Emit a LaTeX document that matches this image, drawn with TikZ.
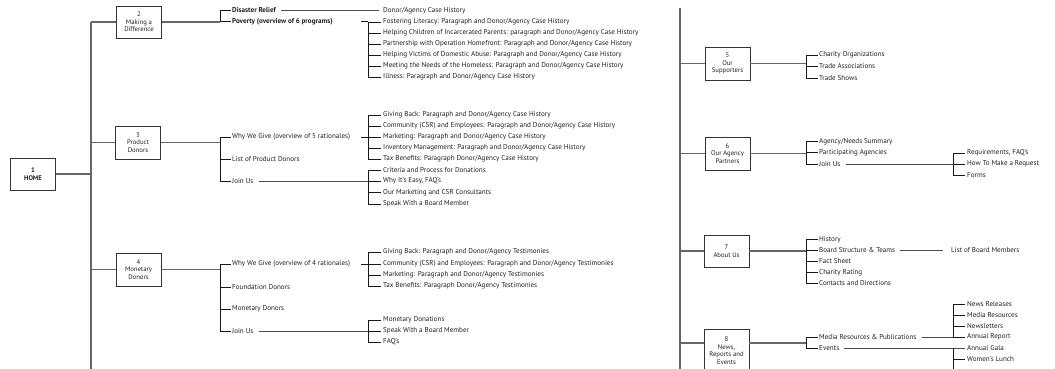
\documentclass[tikz,border=0pt]{standalone}
\usepackage{fontspec}
\setmainfont{PT Sans}
\newcommand\leaffont{\fontsize{7.1}{8}\selectfont}
\newcommand\boxfont{\fontsize{6.7}{7.6}\selectfont}
\begin{document}
\begin{tikzpicture}[x=1pt,y=-1pt,
  lf/.style={anchor=west,inner sep=0pt,font=\leaffont,text=black!88},
  lfb/.style={lf,font=\leaffont\bfseries},
  bx/.style={draw=black!80,line width=0.9pt,minimum width=45pt,minimum height=33pt,inner sep=0pt,align=center,font=\boxfont,text=black!88},
  trunk/.style={draw=black!60,line width=1.3pt},
  brk/.style={draw=black!90,line width=0.9pt},
  conn/.style={draw=black!70,line width=0.9pt}]
\useasboundingbox (0,0) rectangle (1055,368);
\clip (0,0) rectangle (1055,368);
% ---------- left trunk ----------
\coordinate (t1top) at (91,22);
\coordinate (t1bot) at (91,372);
\draw[trunk] (t1top) -- (t1bot);
\node[bx,minimum height=32pt,font=\boxfont\bfseries] (home) at (33,174) {1\\HOME};
\node[bx,minimum height=32pt] (b2) at (139,22) {2\\Making a\\Difference};
\node[bx] (b3) at (138,142.5) {3\\Product\\Donors};
\node[bx] (b4) at (138.5,269.5) {4\\Monetary\\Donors};
\draw[trunk] (home.east) -- (home.east -| t1top);
\foreach \b in {b2,b3,b4} \draw[trunk] (\b.west -| t1top) -- (\b.west);
% bracket columns
\coordinate (k2) at (220,0);
\coordinate (k3) at (368,0);
% ---------- column 2 ----------
\node[lfb] (dr) at (232,10.5) {Disaster Relief};
\node[lfb] (pov) at (232,21.5) {Poverty (overview of 6 programs)};
\node[lf] (why5) at (232,137) {Why We Give (overview of 5 rationales)};
\node[lf] (lpd) at (232,159) {List of Product Donors};
\node[lf] (join3) at (232,181) {Join Us};
\node[lf] (why4) at (232,264) {Why We Give (overview of 4 rationales)};
\node[lf] (fd) at (232,287) {Foundation Donors};
\node[lf] (md) at (232,309) {Monetary Donors};
\node[lf] (join4) at (232,331) {Join Us};
\foreach \b in {b2,b3,b4} \draw[trunk] (\b.east) -- (k2 |- \b.east);
\draw[brk] (k2 |- dr.west) -- (k2 |- b2.east);
\draw[brk] (k2 |- why5.west) -- (k2 |- join3.west);
\draw[brk] (k2 |- why4.west) -- (k2 |- join4.west);
\foreach \n in {dr,pov,why5,lpd,join3,why4,fd,md,join4}
  \draw[brk] (k2 |- \n.west) -- ([xshift=-1.5pt]\n.west);
% ---------- column 3 ----------
\node[lf] (dach) at (383,10.5) {Donor/Agency Case History};
\node[lf] (p1) at (383,22) {Fostering Literacy: Paragraph and Donor/Agency Case History};
\node[lf] (p2) at (383,33) {Helping Children of Incarcerated Parents: paragraph and Donor/Agency Case History};
\node[lf] (p3) at (383,44) {Partnership with Operation Homefront: Paragraph and Donor/Agency Case History};
\node[lf] (p4) at (383,55) {Helping Victims of Domestic Abuse: Paragraph and Donor/Agency Case History};
\node[lf] (p5) at (383,66) {Meeting the Needs of the Homeless: Paragraph and Donor/Agency Case History};
\node[lf] (p6) at (383,77) {Illness: Paragraph and Donor/Agency Case History};
\node[lf] (w1) at (383,115) {Giving Back: Paragraph and Donor/Agency Case History};
\node[lf] (w2) at (383,126) {Community (CSR) and Employees: Paragraph and Donor/Agency Case History};
\node[lf] (w3) at (383,137) {Marketing: Paragraph and Donor/Agency Case History};
\node[lf] (w4) at (383,148) {Inventory Management: Paragraph and Donor/Agency Case History};
\node[lf] (w5) at (383,159) {Tax Benefits: Paragraph Donor/Agency Case History};
\node[lf] (j1) at (383,170) {Criteria and Process for Donations};
\node[lf] (j2) at (383,181) {Why It's Easy, FAQ's};
\node[lf] (j3) at (383,192.5) {Our Marketing and CSR Consultants};
\node[lf] (j4) at (383,204) {Speak With a Board Member};
\node[lf] (v1) at (383,252) {Giving Back: Paragraph and Donor/Agency Testimonies};
\node[lf] (v2) at (383,264) {Community (CSR) and Employees: Paragraph and Donor/Agency Testimonies};
\node[lf] (v3) at (383,275) {Marketing: Paragraph and Donor/Agency Testimonies};
\node[lf] (v4) at (383,286) {Tax Benefits: Paragraph Donor/Agency Testimonies};
\node[lf] (m1) at (383,320) {Monetary Donations};
\node[lf] (m2) at (383,331) {Speak With a Board Member};
\node[lf] (m3) at (383,342) {FAQ's};
\draw[conn] ([xshift=5pt]dr.east) -- ([xshift=-4pt]dach.west);
\draw[conn] ([xshift=5pt]join3.east) -- (k3 |- join3.west);
\draw[conn] ([xshift=5pt]join4.east) -- (k3 |- join4.west);
\foreach \n in {pov,why5,why4}
  \draw[brk] ([xshift=-7pt]k3 |- \n.west) -- (k3 |- \n.west);
\draw[brk] (k3 |- p1.west) -- (k3 |- p6.west);
\draw[brk] (k3 |- w1.west) -- (k3 |- w5.west);
\draw[brk] (k3 |- j1.west) -- (k3 |- j4.west);
\draw[brk] (k3 |- v1.west) -- (k3 |- v4.west);
\draw[brk] (k3 |- m1.west) -- (k3 |- m3.west);
\foreach \n in {p1,p2,p3,p4,p5,p6,w1,w2,w3,w4,w5,j1,j2,j3,j4,v1,v2,v3,v4,m1,m2,m3}
  \draw[brk] (k3 |- \n.west) -- ([xshift=-2pt]\n.west);
% ---------- right trunk ----------
\coordinate (t2top) at (680,8);
\coordinate (t2bot) at (680,372);
\draw[trunk] (t2top) -- (t2bot);
\node[bx] (b5) at (727.5,63.5) {5\\Our\\Supporters};
\node[bx] (b6) at (727.5,153.5) {6\\Our Agency\\Partners};
\node[bx,minimum height=32pt] (b7) at (726.5,251) {7\\About Us};
\node[bx,minimum height=42pt,anchor=north] (b8) at (726.5,329) {8\\News,\\Reports and\\Events};
\coordinate (k5) at (806,0);
\coordinate (kR) at (953,0);
\coordinate (b8y) at (0,343);
\foreach \b in {b5,b6,b7} {
  \draw[trunk] (\b.west -| t2top) -- (\b.west);
  \draw[trunk] (\b.east) -- (k5 |- \b.east);
}
\draw[trunk] (t2top |- b8y) -- (b8.west |- b8y);
\draw[trunk] (b8.east |- b8y) -- (k5 |- b8y);
% box 5
\node[lf] (co) at (819,55) {Charity Organizations};
\node[lf] (ta) at (819,66.5) {Trade Associations};
\node[lf] (ts) at (819,78) {Trade Shows};
% box 6
\node[lf] (an) at (819,141.5) {Agency/Needs Summary};
\node[lf] (pa) at (819,152.5) {Participating Agencies};
\node[lf] (ju) at (819,164) {Join Us};
\node[lf] (rq) at (967,153) {Requirements, FAQ's};
\node[lf] (hm) at (967,164) {How To Make a Request};
\node[lf] (fo) at (967,175) {Forms};
% box 7
\node[lf] (hi) at (819,239.5) {History};
\node[lf] (bs) at (819,250.5) {Board Structure \& Teams};
\node[lf] (fs) at (819,261.5) {Fact Sheet};
\node[lf] (cr) at (819,272.5) {Charity Rating};
\node[lf] (cd) at (819,283.5) {Contacts and Directions};
\node[lf] (lbm) at (951,250.5) {List of Board Members};
% box 8
\node[lf] (mr) at (819,337) {Media Resources \& Publications};
\node[lf] (ev) at (819,348) {Events};
\node[lf] (nr) at (967,304) {News Releases};
\node[lf] (mres) at (967,315) {Media Resources};
\node[lf] (nl) at (967,326) {Newsletters};
\node[lf] (ar) at (967,337) {Annual Report};
\node[lf] (ag) at (967,348) {Annual Gala};
\node[lf] (wl) at (967,359) {Women's Lunch};
\coordinate (wlend) at (953,372);
% brackets right
\draw[brk] (k5 |- co.west) -- (k5 |- ts.west);
\draw[brk] (k5 |- an.west) -- (k5 |- ju.west);
\draw[brk] (k5 |- hi.west) -- (k5 |- cd.west);
\draw[brk] (k5 |- mr.west) -- (k5 |- ev.west);
\foreach \n in {co,ta,ts,an,pa,ju,hi,bs,fs,cr,cd,mr,ev}
  \draw[brk] (k5 |- \n.west) -- ([xshift=-1.5pt]\n.west);
\draw[conn] ([xshift=5pt]ju.east) -- (kR |- ju.west);
\draw[conn] ([xshift=5pt]bs.east) -- ([xshift=-8pt]lbm.west);
\draw[conn] ([xshift=5pt]mr.east) -- (kR |- mr.west);
\draw[conn] ([xshift=5pt]ev.east) -- ([xshift=-2pt]ag.west);
\draw[brk] (kR |- rq.west) -- (kR |- fo.west);
\draw[brk] (kR |- nr.west) -- (kR |- ar.west);
\draw[brk] (kR |- ag.west) -- (wlend);
\foreach \n in {rq,hm,fo,nr,mres,nl,ar,wl}
  \draw[brk] (kR |- \n.west) -- ([xshift=-2pt]\n.west);
\end{tikzpicture}
\end{document}
